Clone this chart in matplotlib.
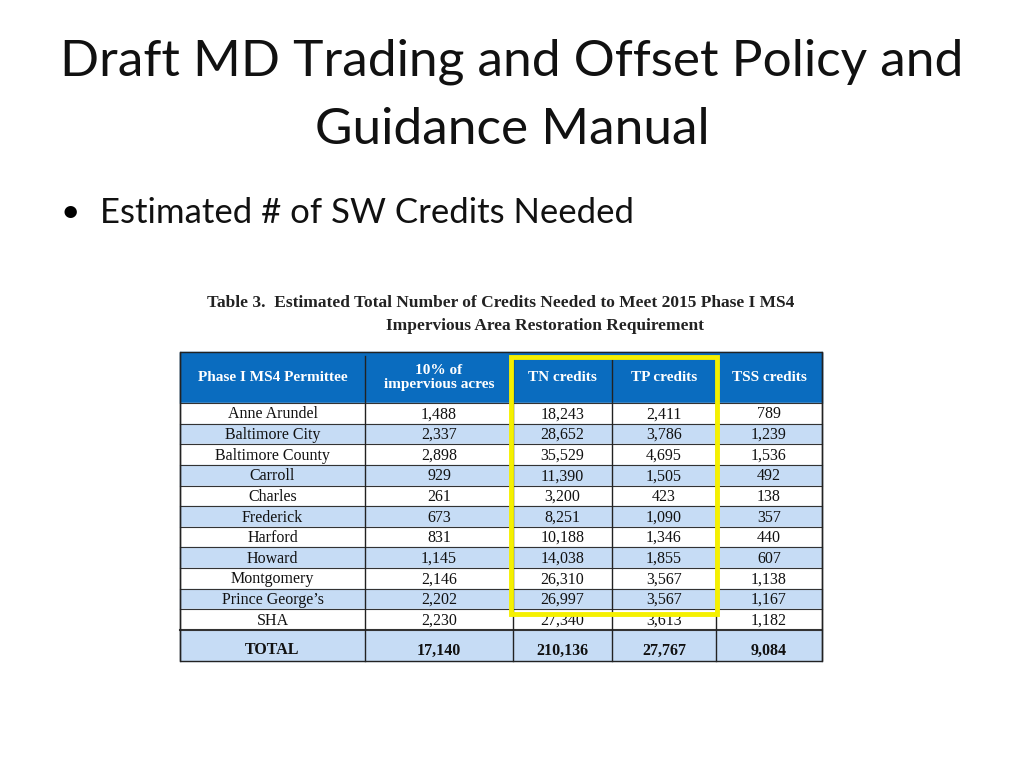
import matplotlib
matplotlib.use("Agg")
import matplotlib.pyplot as plt
from matplotlib.patches import Rectangle

permittees = ["Anne Arundel","Baltimore City","Baltimore County","Carroll","Charles","Frederick",
              "Harford","Howard","Montgomery","Prince George\u2019s","SHA"]
impervious = ["1,488","2,337","2,898","929","261","673","831","1,145","2,146","2,202","2,230"]
tn_credits = ["18,243","28,652","35,529","11,390","3,200","8,251","10,188","14,038","26,310","26,997","27,340"]
tp_credits = ["2,411","3,786","4,695","1,505","423","1,090","1,346","1,855","3,567","3,567","3,613"]
tss_credits = ["789","1,239","1,536","492","138","357","440","607","1,138","1,167","1,182"]
totals = ["TOTAL","17,140","210,136","27,767","9,084"]
headers = ["Phase I MS4 Permittee","10% of\nimpervious acres","TN credits","TP credits","TSS credits"]

fig = plt.figure(figsize=(10.24,7.68), dpi=100)
ax = fig.add_axes([0,0,1,1])
ax.set_xlim(0,1024); ax.set_ylim(768,0); ax.axis("off")

ax.text(512,62,"Draft MD Trading and Offset Policy and",ha="center",va="center",fontsize=37,family="Lato",color="#111")
ax.text(512,130,"Guidance Manual",ha="center",va="center",fontsize=37,family="Lato",color="#111")
ax.text(60,213,"\u2022",ha="left",va="center",fontsize=24,family="Lato")
ax.text(100,213,"Estimated # of SW Credits Needed",ha="left",va="center",fontsize=25,family="Lato",color="#111")

ax.text(501,303,"Table 3.  Estimated Total Number of Credits Needed to Meet 2015 Phase I MS4",ha="center",va="center",
        fontsize=12.5,family="Liberation Serif",weight="bold",color="#222")
ax.text(545,326,"Impervious Area Restoration Requirement",ha="center",va="center",
        fontsize=12.5,family="Liberation Serif",weight="bold",color="#222")

xs = [180,365,513,612,716,822]
htop, hbot = 352, 403
rh = (630-403)/len(permittees)
ttop, tbot = 630, 661
blue = "#0a6cbf"; light = "#c6dcf5"

ax.add_patch(Rectangle((xs[0],htop),xs[-1]-xs[0],hbot-htop,color=blue,zorder=1))
for j,h in enumerate(headers):
    ax.text((xs[j]+xs[j+1])/2,(htop+hbot)/2,h,ha="center",va="center",color="white",
            fontsize=11,family="Liberation Serif",weight="bold",linespacing=1.15,zorder=3)
cols = [permittees,impervious,tn_credits,tp_credits,tss_credits]
for i in range(len(permittees)):
    y0 = hbot+i*rh
    ax.add_patch(Rectangle((xs[0],y0),xs[-1]-xs[0],rh,color=(light if i%2 else "white"),zorder=1))
    ax.plot([xs[0],xs[-1]],[y0,y0],color="#333",lw=0.8,zorder=2)
    for j,c in enumerate(cols):
        ax.text((xs[j]+xs[j+1])/2,y0+rh/2+1,c[i],ha="center",va="center",fontsize=11.5,
                family="Liberation Serif",color="#111",zorder=3)
ax.add_patch(Rectangle((xs[0],ttop),xs[-1]-xs[0],tbot-ttop,color=light,zorder=1))
ax.plot([xs[0],xs[-1]],[ttop,ttop],color="#333",lw=1.5,zorder=2)
for j,t in enumerate(totals):
    ax.text((xs[j]+xs[j+1])/2,(ttop+tbot)/2+5,t,ha="center",va="center",fontsize=11.5,
            family="Liberation Serif",weight="bold",color="#111",zorder=3)
for x in xs:
    ax.plot([x,x],[htop if x in (xs[0],xs[-1]) else htop+4,tbot],color="#222",lw=1,zorder=2)
ax.add_patch(Rectangle((xs[0],htop),xs[-1]-xs[0],tbot-htop,fill=False,ec="#222",lw=1,zorder=2))
ax.add_patch(Rectangle((511,357),206,257,fill=False,ec="#f5f000",lw=3.5,zorder=4))

fig.savefig("out.png",dpi=100,facecolor="white")
